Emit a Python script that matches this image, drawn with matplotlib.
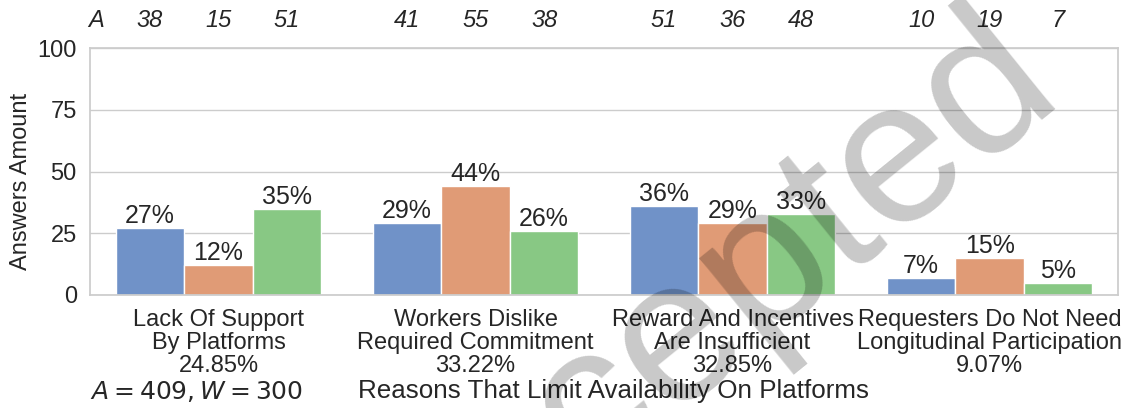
import numpy as np
import matplotlib
matplotlib.use("Agg")
import matplotlib.pyplot as plt
import seaborn as sns

sns.set_theme(style="whitegrid")
plt.rcParams['font.family'] = ['Liberation Sans', 'DejaVu Sans']
plt.rcParams['mathtext.fontset'] = 'dejavusans'

# reasons (x tick labels)
reasons = ["Lack Of Support\nBy Platforms\n24.85%",
           "Workers Dislike\nRequired Commitment\n33.22%",
           "Reward And Incentives\nAre Insufficient\n32.85%",
           "Requesters Do Not Need\nLongitudinal Participation\n9.07%"]

# answer counts per group (top italic row)
n_blue = [38, 41, 51, 10]
n_orange = [15, 55, 36, 19]
n_green = [51, 38, 48, 7]

# share of answers within each group (bar heights / labels)
pct_blue = [27, 29, 36, 7]
pct_orange = [12, 44, 29, 15]
pct_green = [35, 26, 33, 5]

colors = ["#7092c8", "#e09b76", "#88c884"]

fig = plt.figure(figsize=(11.41, 4.08), dpi=100)
ax = fig.add_axes([0.0789, 0.277, 0.9011, 0.605])

x = np.arange(len(reasons))
w = 0.8 / 3
series = [(pct_blue, n_blue), (pct_orange, n_orange), (pct_green, n_green)]
for i, (pct, n) in enumerate(series):
    pos = x + (i - 1) * w
    ax.bar(pos, pct, width=w, color=colors[i], edgecolor="white", linewidth=1, zorder=2)
    for xp, p, c in zip(pos, pct, n):
        ax.text(xp, p, "%d%%" % p, ha="center", va="bottom", fontsize=18, color="#262626")
        ax.text(xp, 111, str(c), ha="center", va="center", fontsize=17,
                style="italic", color="#262626", clip_on=False)

ax.text(-0.475, 111, "A", ha="center", va="center", fontsize=17,
        style="italic", color="#262626", clip_on=False)

ax.set_xlim(-0.5, 3.5)
ax.set_ylim(0, 100)
ax.set_yticks([0, 25, 50, 75, 100])
ax.set_xticks(x)
ax.set_xticklabels(reasons, fontsize=17, linespacing=1.05)
ax.tick_params(axis="y", labelsize=17)
ax.tick_params(axis="x", pad=4)
ax.set_ylabel("Answers Amount", fontsize=17)
ax.yaxis.set_label_coords(-0.056, 0.46)
ax.grid(axis="x", visible=False)

ax.set_xlabel("Reasons That Limit Availability On Platforms", fontsize=18.7)
ax.xaxis.set_label_coords((613 - 90) / 1028, -0.34)
fig.text(197 / 1141, 1 - 392 / 408, r"$A = 409, W = 300$", ha="center", va="center",
         fontsize=18, color="#262626")

# watermark
fig.text(702 / 1141, 1 - 326 / 408, "Accepted", fontsize=147, rotation=39, ha="center",
         va="center", rotation_mode="anchor", color="black", alpha=0.216, zorder=10)

fig.savefig("out.png", dpi=100)
